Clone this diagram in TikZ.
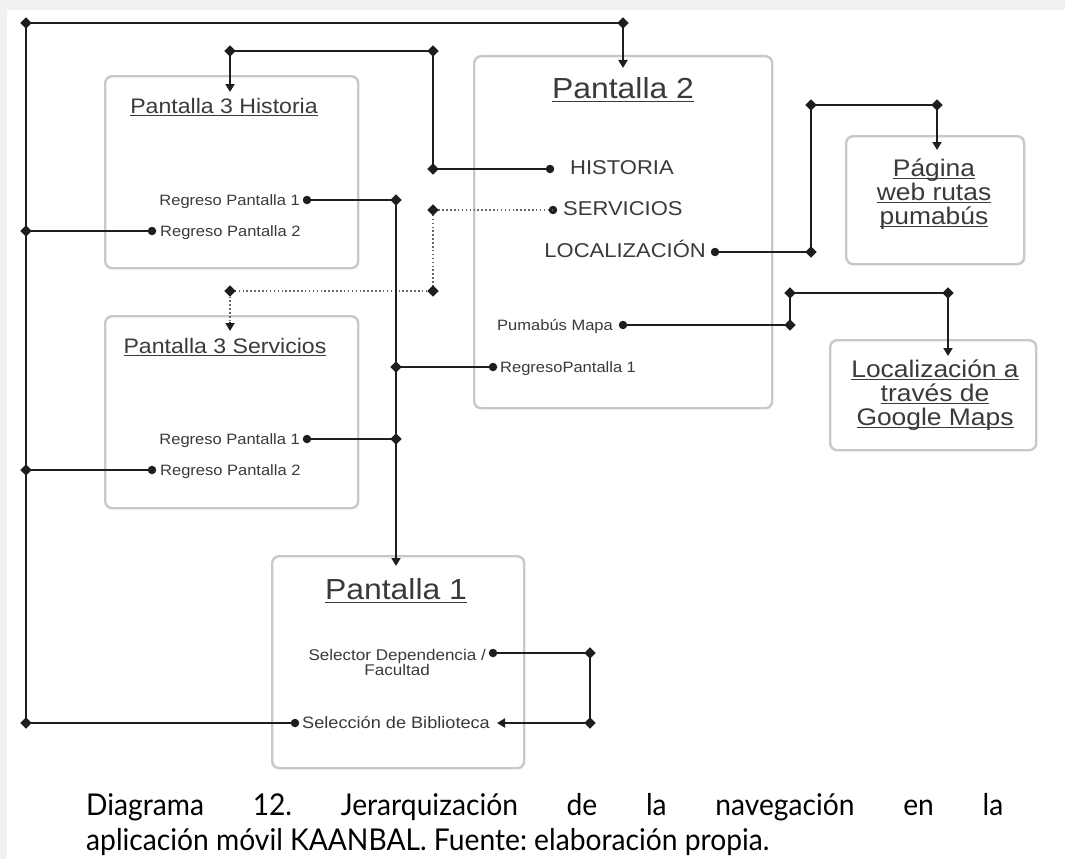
\documentclass[tikz,border=0pt]{standalone}
\usepackage{fontspec}
\setmainfont[FakeStretch=1.1]{Liberation Sans}
\newfontfamily\capfont[FakeStretch=0.94]{Lato}
\usetikzlibrary{arrows.meta,shapes.geometric}

\definecolor{bandgray}{HTML}{F1F1F1}
\definecolor{boxline}{HTML}{C8C8C8}
\definecolor{labeltext}{HTML}{3A3A3A}
\definecolor{wirecol}{HTML}{1E1E1E}
\definecolor{dotwirecol}{HTML}{666666}

% underline at a fixed depth below the baseline
\newcommand\uln[1]{\setbox0\hbox{#1}\rlap{\rule[-0.13em]{\wd0}{0.055em}}\box0}

\tikzset{
  screen/.style={draw=boxline, line width=2.4pt, rounded corners=7pt, fill=white,
    inner sep=0pt, anchor=north west},
  wire/.style={draw=wirecol, line width=1.9pt},
  dotwire/.style={draw=dotwirecol, line width=1.8pt, dash pattern=on 1.5pt off 2.4pt},
  tip/.style={-{Triangle[length=8pt,width=9pt]}},
  jn/.style={diamond, fill=wirecol, inner sep=0pt, minimum size=11pt},
  dt/.style={circle, fill=wirecol, inner sep=0pt, minimum size=8.5pt},
  lbl/.style={inner sep=0pt, text=labeltext},
  small/.style={lbl, font=\fontsize{15}{18}\selectfont},
  mid/.style={lbl, font=\fontsize{20}{24}\selectfont},
  ttl/.style={inner sep=0pt, text=labeltext, font=\fontsize{29}{34}\selectfont},
  sttl/.style={inner sep=0pt, text=labeltext, font=\fontsize{21}{25}\selectfont},
  ext/.style={inner sep=0pt, text=labeltext, align=center, font=\fontsize{24}{24}\selectfont},
}

\begin{document}
\begin{tikzpicture}[x=1pt,y=-1pt]
\useasboundingbox (0,0) rectangle (1065,859);
\fill[bandgray] (0,0) rectangle (1065,859);
\fill[white] (7,10) rectangle (1065,859);

% ---------- screens ----------
\node[screen, minimum width=253, minimum height=192] (p3h) at (104,75) {};
\node[screen, minimum width=253, minimum height=192] (p3s) at (104,315) {};
\node[screen, minimum width=298, minimum height=352] (p2) at (473,55) {};
\node[screen, minimum width=178, minimum height=128] (web) at (845,135) {};
\node[screen, minimum width=206, minimum height=110] (gmap) at (829,339) {};
\node[screen, minimum width=252, minimum height=212] (p1) at (271,555) {};

% ---------- titles and entries ----------
\node[sttl] (t3h) at (224,107) {\uln{Pantalla 3 Historia}};
\node[small, anchor=mid east] (hr1) at (300,203) {Regreso Pantalla 1};
\node[small, anchor=mid west] (hr2) at (160,234) {Regreso Pantalla 2};

\node[sttl] (t3s) at (225,347) {\uln{Pantalla 3 Servicios}};
\node[small, anchor=mid east] (sr1) at (300,442) {Regreso Pantalla 1};
\node[small, anchor=mid west] (sr2) at (160,473) {Regreso Pantalla 2};

\node[ttl] (t2) at (623,90) {\uln{Pantalla 2}};
\node[mid, anchor=mid west] (his) at (570,172) {HISTORIA};
\node[mid, anchor=mid west] (ser) at (563,213) {SERVICIOS};
\node[mid, anchor=mid east] (loc) at (706,255) {LOCALIZACIÓN};
\node[small, anchor=mid east] (pum) at (613,328) {Pumabús Mapa};
\node[small, anchor=mid west] (p2r) at (500,370) {RegresoPantalla 1};

\node[ext] (tweb) at (934,194) {\uln{Página}\\\uln{web rutas}\\\uln{pumabús}};
\node[ext] (tgm) at (935,395) {\uln{Localización a}\\\uln{través de}\\\uln{Google Maps}};

\node[ttl] (t1) at (396,591) {\uln{Pantalla 1}};
\node[small, anchor=east, align=center, font=\fontsize{15.5}{15}\selectfont] (sel) at (486,662)
  {Selector Dependencia /\\Facultad};
\node[lbl, anchor=mid west, font=\fontsize{16.5}{20}\selectfont] (bib) at (302,726) {Selección de Biblioteca};

% ---------- end dots ----------
\node[dt] (dhr1) at (307,200) {};
\node[dt] (dhr2) at (152,231) {};
\node[dt] (dsr1) at (307,439) {};
\node[dt] (dsr2) at (152,470) {};
\node[dt] (dhis) at (550,169) {};
\node[dt] (dser) at (553,210) {};
\node[dt] (dloc) at (715,252) {};
\node[dt] (dpum) at (623,325) {};
\node[dt] (dp2r) at (493,367) {};
\node[dt] (dsel) at (493,653) {};
\node[dt] (dbib) at (295,723) {};

% ---------- junctions ----------
\node[jn] (ja) at (26,23) {};
\node[jn] (jb) at (623,23) {};
\node[jn] (jc) at (26,231) {};
\node[jn] (jd) at (26,470) {};
\node[jn] (je) at (26,723) {};
\node[jn] (jf) at (230,51) {};
\node[jn] (jg) at (433,51) {};
\node[jn] (jh) at (433,169) {};
\node[jn] (ji) at (396,200) {};
\node[jn] (jj) at (396,367) {};
\node[jn] (jk) at (396,439) {};
\node[jn] (jl) at (433,210) {};
\node[jn] (jm) at (433,291) {};
\node[jn] (jn1) at (230,291) {};
\node[jn] (jo) at (811,252) {};
\node[jn] (jp) at (811,105) {};
\node[jn] (jq) at (937,105) {};
\node[jn] (jr) at (790,325) {};
\node[jn] (js) at (790,293) {};
\node[jn] (jt) at (948,293) {};
\node[jn] (ju) at (590,653) {};
\node[jn] (jv) at (590,723) {};

% arrow targets
\coordinate (a2) at (623,68);
\coordinate (a3h) at (230,92);
\coordinate (a3sb) at (230,322);
\coordinate (a3s) at (230,331);
\coordinate (a1) at (396,566);
\coordinate (aweb) at (937,150);
\coordinate (agm) at (948,356);
\coordinate (abib) at (497,723);

% ---------- connectors ----------
% return to Pantalla 2 along the outer rail
\draw[wire] (dbib.center) -- (je.center) -- (ja.center) -- (jb.center);
\draw[wire, tip] (jb.center) -- (a2);
\draw[wire] (dhr2.center) -- (jc.center);
\draw[wire] (dsr2.center) -- (jd.center);

% HISTORIA -> Pantalla 3 Historia
\draw[wire] (dhis.center) -- (jh.center) -- (jg.center) -- (jf.center);
\draw[wire, tip] (jf.center) -- (a3h);

% SERVICIOS -> Pantalla 3 Servicios (dotted, with a solid head)
\draw[dotwire] (dser.center) -- (jl.center) -- (jm.center) -- (jn1.center) -- (a3sb);
\draw[wire, tip] (a3sb) -- (a3s);

% return to Pantalla 1
\draw[wire] (dhr1.center) -- (ji.center);
\draw[wire, tip] (ji.center) -- (a1);
\draw[wire] (dp2r.center) -- (jj.center);
\draw[wire] (dsr1.center) -- (jk.center);

% LOCALIZACIÓN -> web page
\draw[wire] (dloc.center) -- (jo.center) -- (jp.center) -- (jq.center);
\draw[wire, tip] (jq.center) -- (aweb);

% Pumabús Mapa -> Google Maps
\draw[wire] (dpum.center) -- (jr.center) -- (js.center) -- (jt.center);
\draw[wire, tip] (jt.center) -- (agm);

% selector -> library choice
\draw[wire] (dsel.center) -- (ju.center) -- (jv.center);
\draw[wire, tip] (jv.center) -- (abib);

% redraw markers above the wires
\foreach \m in {ja,jb,jc,jd,je,jf,jg,jh,ji,jj,jk,jl,jm,jn1,jo,jp,jq,jr,js,jt,ju,jv}
  \fill[wirecol] (\m.north) -- (\m.east) -- (\m.south) -- (\m.west) -- cycle;

% ---------- caption ----------
\node[anchor=north west, inner sep=0pt, text width=917pt, align=justify,
      font=\capfont\fontsize{30}{35}\selectfont\frenchspacing] (cap) at (86,793)
  {Diagrama 12. Jerarquización de la navegación en la\linebreak
   aplicación móvil KAANBAL. Fuente: elaboración propia.};
\end{tikzpicture}
\end{document}
